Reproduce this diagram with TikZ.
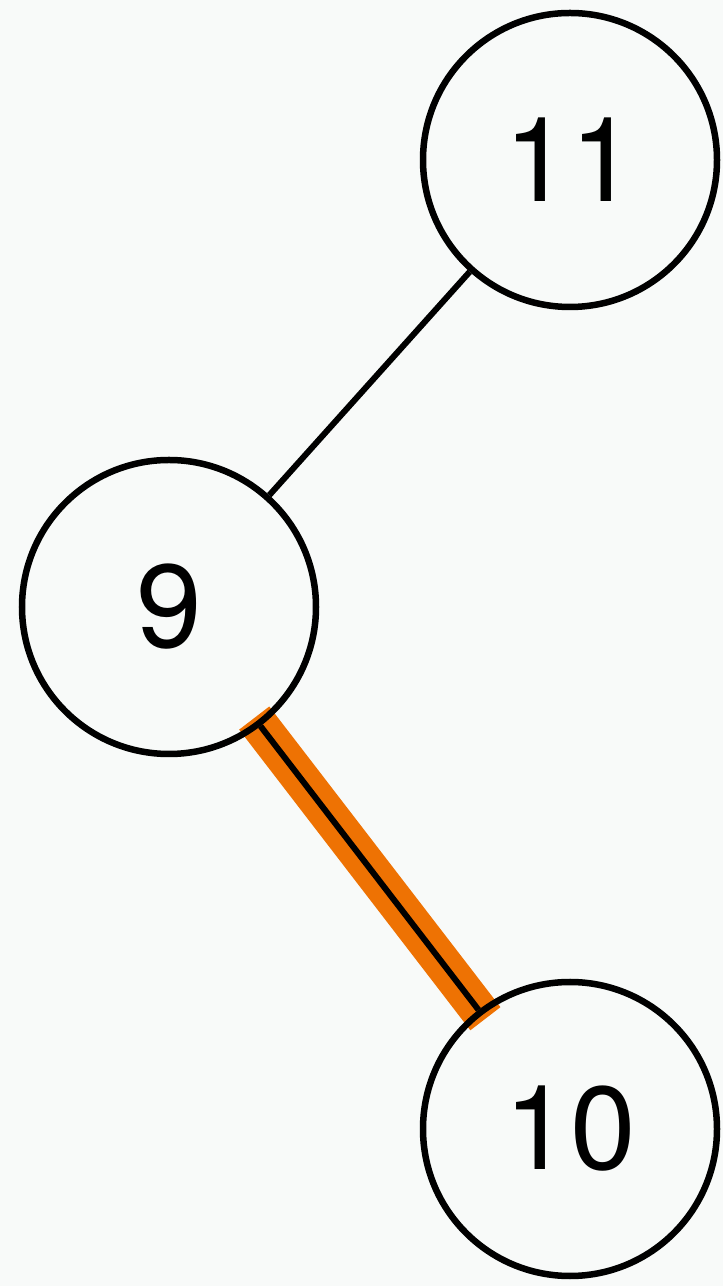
\documentclass[tikz,border=0pt]{standalone}
\usepackage{fontspec}
\setmainfont{TeX Gyre Heros}
\definecolor{bgc}{HTML}{F8FAF9}
\definecolor{hl}{HTML}{EE7203}
\begin{document}
\begin{tikzpicture}[x=1pt,y=1pt,
  treenode/.style={circle,draw=black,line width=6.5pt,minimum size=294pt,inner sep=0pt,font=\fontsize{118}{120}\selectfont},
  edge/.style={line width=6pt,draw=black},
  hledge/.style={line width=38pt,draw=hl,shorten <=-10pt,shorten >=-11pt}]
\fill[bgc] (0,0) rectangle (723,1286);
\useasboundingbox (0,0) rectangle (723,1286);
\coordinate (c11) at (570,1126);
\coordinate (c9) at (169,679);
\coordinate (c10) at (570,157);
\path (c9) ++(-52.5:150) coordinate (h1);
\path (c10) ++(127.5:150) coordinate (h2);
\draw[hledge] (h1) -- (h2);
\node[treenode] (n11) at (c11) {11};
\node[treenode] (n9) at (c9) {9};
\node[treenode] (n10) at (c10) {10};
\draw[edge] (n11) -- (n9);
\draw[edge] (n9) -- (n10);
\end{tikzpicture}
\end{document}
